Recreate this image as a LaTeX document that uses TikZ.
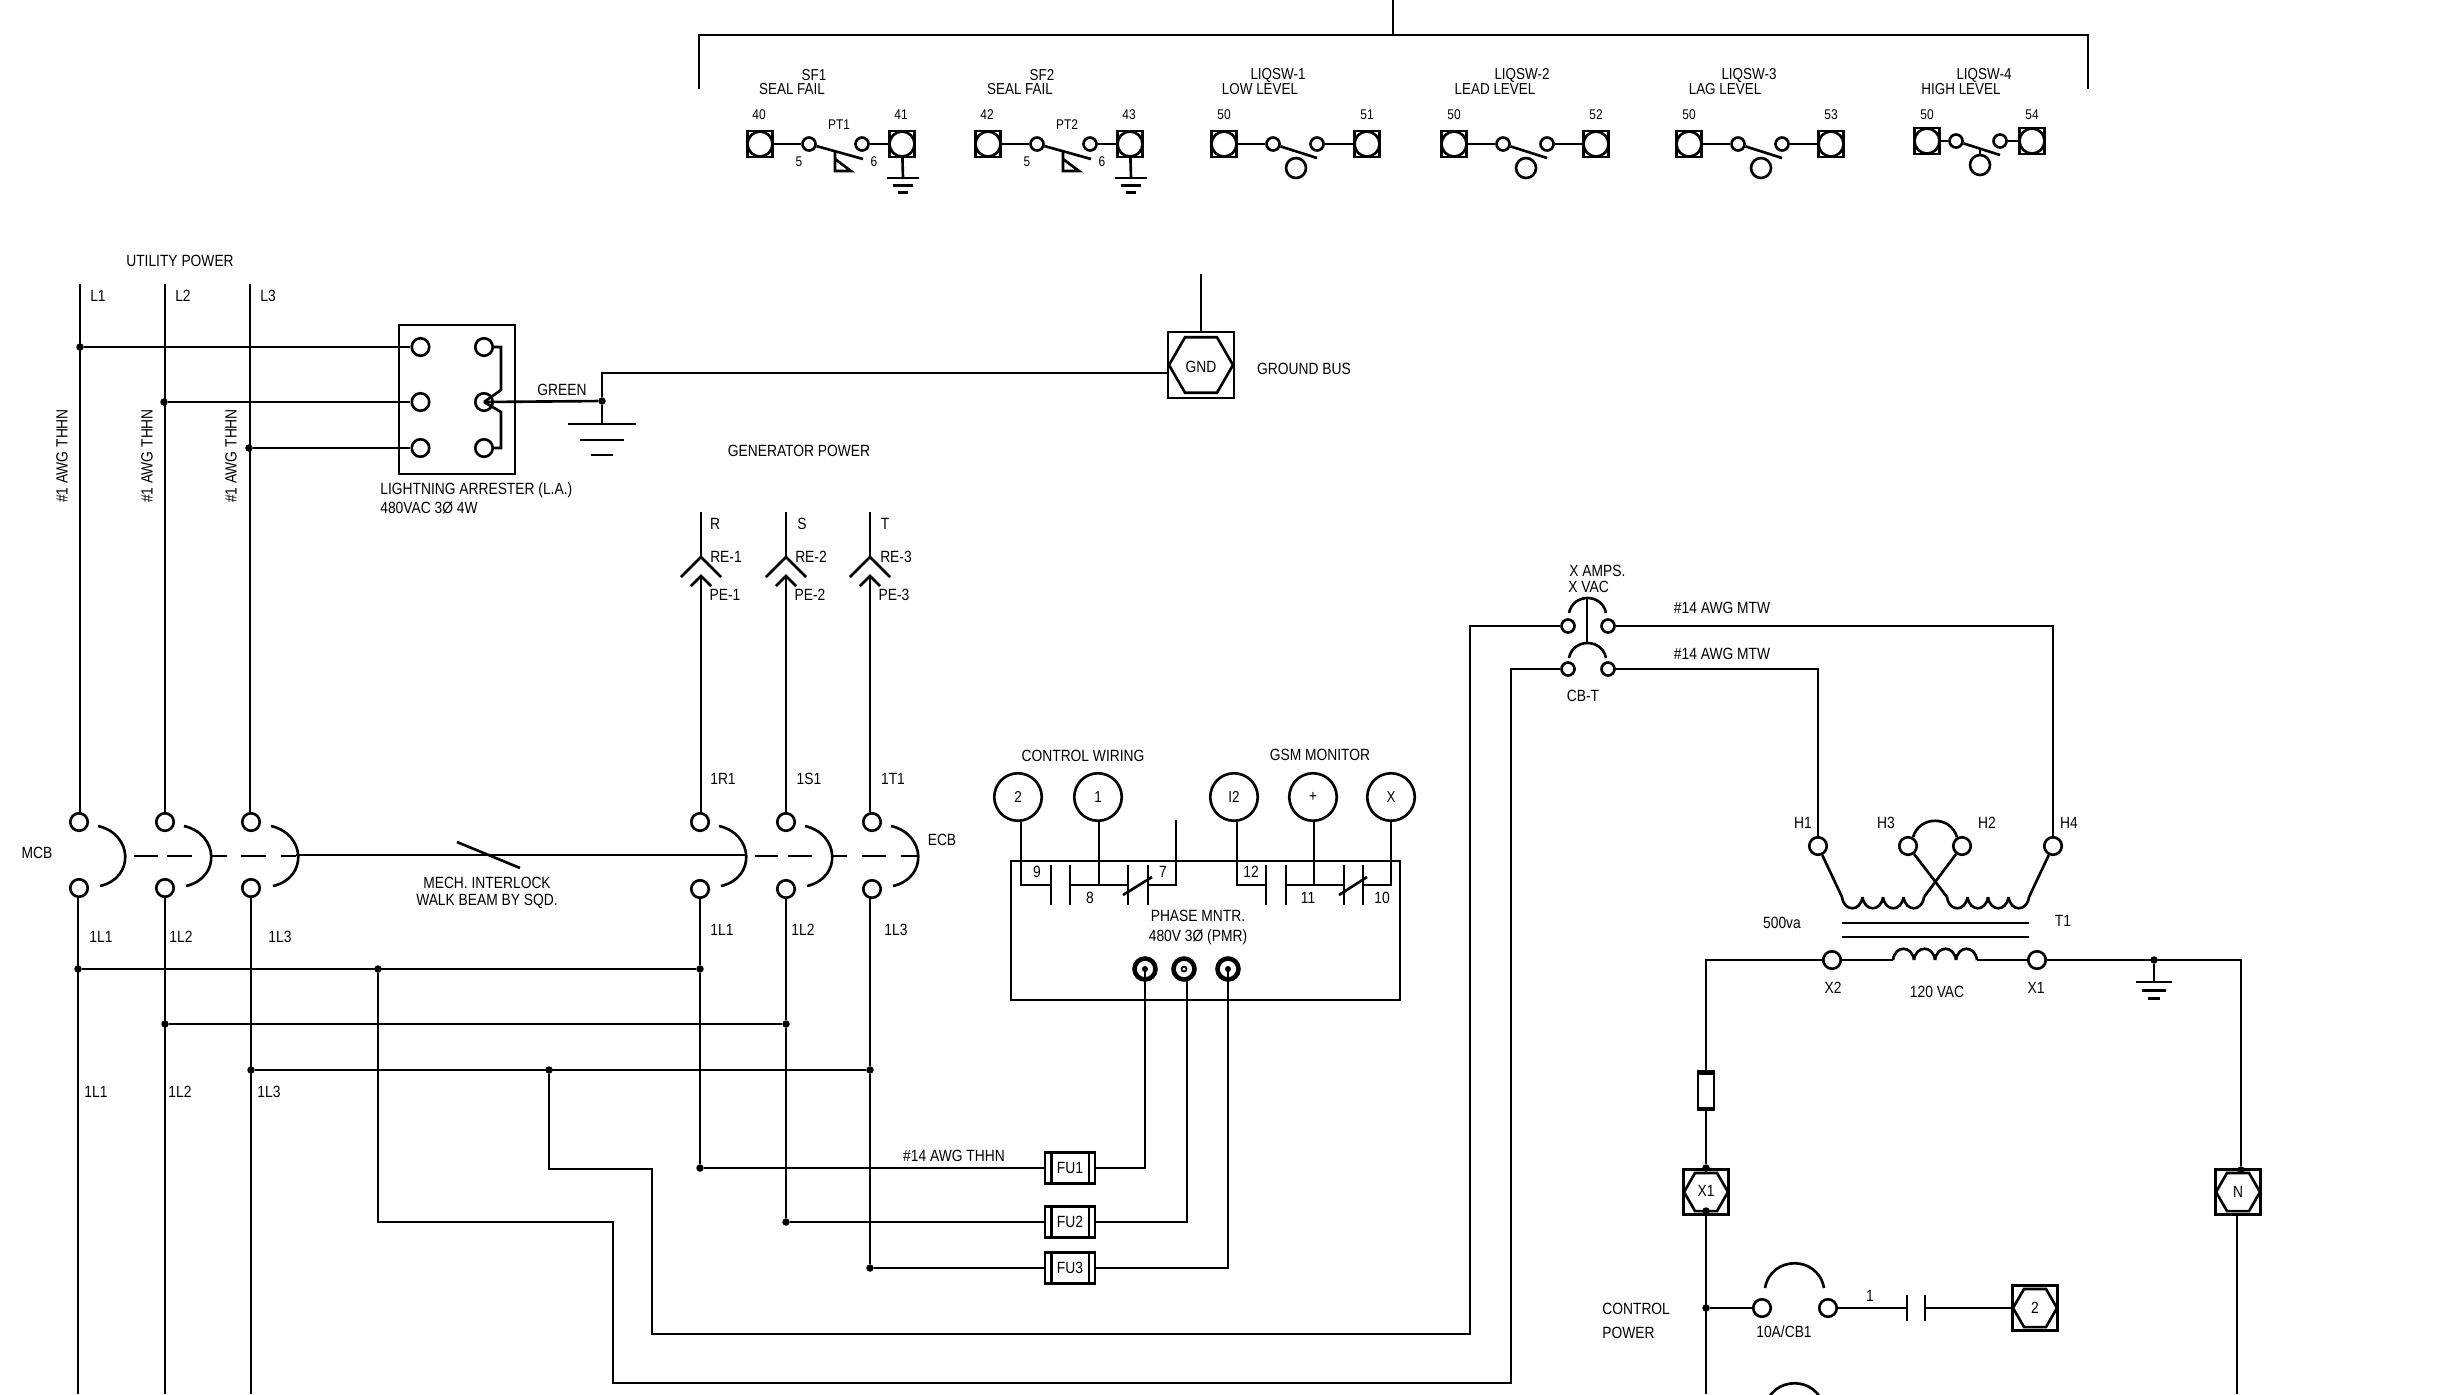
\documentclass[tikz,border=0pt]{standalone}
\usepackage{fontspec}
\setmainfont[FakeStretch=0.85]{Liberation Sans}
\usetikzlibrary{shapes.geometric,calc}

\tikzset{
  wire/.style={line width=1.5pt},
  term/.style={circle,draw,wire,fill=white,inner sep=0pt,minimum size=.35cm},
  smterm/.style={term,minimum size=.26cm},
  sqterm/.style={rectangle,draw,wire,inner sep=0pt,minimum width=.5cm,minimum height=.52cm},
  sqdisc/.style={circle,draw,wire,fill=white,inner sep=0pt,minimum size=.5cm},
  dot/.style={circle,fill=black,inner sep=0pt,minimum size=.15cm},
  lbl/.style={inner sep=0pt,font=\fontsize{9.25}{11}\selectfont},
  toplbl/.style={inner sep=0pt,font=\fontsize{9}{11}\selectfont},
  numlbl/.style={inner sep=0pt,font=\fontsize{8}{10}\selectfont},
  sqhex/.style={rectangle,draw,wire,inner sep=0pt},
  hexa/.style={regular polygon,regular polygon sides=6,draw,wire,inner sep=0pt},
  fuse/.style={rectangle,draw,wire,fill=white,inner sep=0pt,minimum width=1cm,minimum height=.62cm},
  pics/earth/.style={code={
    \draw[wire] (-34,0) -- (34,0);
    \draw[wire] (-22,16) -- (22,16);
    \draw[wire] (-11,31) -- (11,31);
  }}
}

\begin{document}
\begin{tikzpicture}[x=.02cm,y=-.02cm]
\path[use as bounding box,clip] (0,0) rectangle (2448,1394);

% bus to the switches
\coordinate (tstem) at (1393,0);
\coordinate (tjoin) at (1393,35);
\coordinate (tleft) at (699,89);
\coordinate (tright) at (2088,89);
\draw[wire] (tstem) -- (tjoin);
\draw[wire] (tleft) |- (tjoin) -| (tright);

% pressure switches
\foreach \nm/\dx/\na/\nb/\sf/\pt in {sfa/0/40/41/SF1/PT1,sfb/228/42/43/SF2/PT2}{
  \begin{scope}[shift={(\dx,0)}]
    \node[sqterm] (\nm l) at (760,144) {};
    \node[sqterm] (\nm r) at (902,144) {};
    \node[sqdisc] (\nm ld) at (760,144) {};
    \node[sqdisc] (\nm rd) at (902,144) {};
    \node[smterm] (\nm a) at (809,144) {};
    \node[smterm] (\nm b) at (862,144) {};
    \coordinate (\nm e) at (863,159);
    \coordinate (\nm g) at (903,178);
    \draw[wire] (\nm ld) -- (\nm a);
    \draw[wire] (\nm b) -- (\nm rd);
    \draw[wire] (\nm a) -- (\nm e);
    \draw[wire] (835,151) -- (835,171) -- (851,171) -- (835,159);
    \draw[wire] (\nm rd) -- (\nm g);
    \pic[scale=.47] at (\nm g) {earth};
    \node[numlbl] (\nm ta) at (759,115) {\na};
    \node[numlbl] (\nm tb) at (901,115) {\nb};
    \node[numlbl] (\nm tc) at (799,162) {5};
    \node[numlbl] (\nm td) at (874,162) {6};
    \node[numlbl] (\nm te) at (839,125) {\pt};
    \node[toplbl] (\nm tf) at (814,75) {\sf};
    \node[toplbl] (\nm tg) at (792,89) {SEAL FAIL};
  \end{scope}
}

% level switches
\foreach \nm/\xl/\xr/\ca/\cb/\fx/\py/\tag/\lev/\tx/\lx/\nb in {
  lqa/1224/1367/1273/1317/1296/144/LIQSW-1/LOW LEVEL/1278/1260/51,
  lqb/1454/1596/1503/1547/1526/144/LIQSW-2/LEAD LEVEL/1522/1495/52,
  lqc/1689/1831/1738/1782/1761/144/LIQSW-3/LAG LEVEL/1749/1725/53,
  lqd/1927/2032/1956/2000/1980/141/LIQSW-4/HIGH LEVEL/1984/1961/54}{
  \node[sqterm] (\nm l) at (\xl,\py) {};
  \node[sqterm] (\nm r) at (\xr,\py) {};
  \node[sqdisc] (\nm ld) at (\xl,\py) {};
  \node[sqdisc] (\nm rd) at (\xr,\py) {};
  \node[smterm] (\nm a) at (\ca,\py) {};
  \node[smterm] (\nm b) at (\cb,\py) {};
  \node[term,minimum size=.4cm] (\nm f) at (\fx,{\py+24}) {};
  \coordinate (\nm e) at (\cb,{\py+14});
  \draw[wire] (\nm ld) -- (\nm a);
  \draw[wire] (\nm b) -- (\nm rd);
  \draw[wire] (\nm a) -- (\nm e);
  \node[numlbl] (\nm ta) at (\xl,115) {50};
  \node[numlbl] (\nm tb) at (\xr,115) {\nb};
  \node[toplbl] (\nm tc) at (\tx,75) {\tag};
  \node[toplbl] (\nm td) at (\lx,89) {\lev};
}
\draw[wire] (lqdf) -- (1980,148);

% utility power side
\foreach \nm/\xt/\xc/\xb/\ybus/\n in {a/80/79/78/969/1,b/165/165/165/1024/2,c/250/251/251/1070/3}{
  \coordinate (lin\nm) at (\xt,284);
  \coordinate (lout\nm) at (\xb,1394);
  \node[term] (mcbu\nm) at (\xc,822) {};
  \node[term] (mcbl\nm) at (\xc,888) {};
  \draw[wire] (lin\nm) -- (lin\nm |- mcbu\nm.north);
  \draw[wire] (lout\nm |- mcbl\nm.south) -- (lout\nm);
  \node[dot] (busl\nm) at (\xb,\ybus) {};
  \node[lbl] (tagl\nm) at ({\xt+18},296) {L\n};
}
\foreach \px in {98,184,271,719,805,891}{
  \draw[wire] (\px,826) .. controls +(35,8) and +(35,-8) .. ++(2,60);
}

% arrester
\node[rectangle,draw,wire,inner sep=0pt,minimum width=2.32cm,minimum height=2.98cm] (arr) at (457,399.5) {};
\foreach \nm/\py/\px in {a/347/80,b/402/164,c/448/249}{
  \node[term] (arl\nm) at (420.5,\py) {};
  \node[term] (arr\nm) at (484,\py) {};
  \node[dot] (ard\nm) at (\px,\py) {};
  \draw[wire] (ard\nm) -- (arl\nm);
}
\draw[wire] (arra) -- (501,347) -- (501,390) -- (arrb.center);
\draw[wire] (arrc) -- (501,448) -- (501,412) -- (arrb.center);
\node[dot] (greendot) at (602,401) {};
\draw[wire] (arrb.center) -- (greendot);
\coordinate (gndg) at (602,424);
\draw[wire] (greendot) -- (gndg);
\pic at (gndg) {earth};

% hexagon blocks
\foreach \nm/\px/\py/\sq/\hx/\txt/\ty in {gnd/1201/365/1.32cm/1.28cm/GND/367,xone/1706/1192/.9cm/.88cm/X1/1191,nbox/2238/1192/.9cm/.88cm/N/1192,twob/2035/1308/.9cm/.88cm/2/1308}{
  \node[sqhex,minimum size=\sq] (\nm s) at (\px,\py) {};
  \node[hexa,minimum size=\hx] (\nm) at (\px,\py) {};
  \node[lbl] (\nm t) at (\px,\ty) {\txt};
}
\coordinate (gndtop) at (1201,274);
\draw[wire] (gndtop) -- (gnds.north);
\draw[wire] (greendot) |- (gnds.west |- 0,373);

% generator side
\foreach \nm/\up/\xt/\xc/\xb/\ybus/\n/\m/\xa/\xe/\xf/\xg/\xh in {
  r/a/701/700/700/969/1/R/715/726/725/723/722,
  s/b/786/786/786/1024/2/S/802/811/810/809/803,
  t/c/870/872/870/1070/3/T/885/896/894/893/896}{
  \coordinate (gin\nm) at (\xt,512);
  \coordinate (sock\nm) at (\xt,557);
  \coordinate (pin\nm) at (\xt,576);
  \draw[wire] (gin\nm) -- (sock\nm);
  \draw[wire] ($(sock\nm)+(-20,20)$) -- (sock\nm) -- ($(sock\nm)+(20,20)$);
  \draw[wire] ($(pin\nm)+(-10,10)$) -- (pin\nm) -- ($(pin\nm)+(10,10)$);
  \node[term] (ecbu\nm) at (\xc,822) {};
  \node[term] (ecbl\nm) at (\xc,889) {};
  \draw[wire] (pin\nm) -- (pin\nm |- ecbu\nm.north);
  \node[dot] (bush\nm) at (\xb,\ybus) {};
  \draw[wire] (\xb,898) -- (bush\nm);
  \draw[wire] (busl\up) -- (bush\nm);
  \node[lbl] (tag\nm a) at (\xa,524) {\m};
  \node[lbl] (tag\nm b) at (\xe,557) {RE-\n};
  \node[lbl] (tag\nm c) at (\xf,595) {PE-\n};
  \node[lbl] (tag\nm d) at (\xg,779) {1\m 1};
  \node[lbl] (tag\nm e) at (\xh,930) {1L\n};
}

% interlock beam
\coordinate (beama) at (296,855);
\coordinate (beamb) at (745,855);
\coordinate (ticka) at (457,842);
\coordinate (tickb) at (520,868);
\draw[wire] (beama) -- (beamb);
\draw[wire] (ticka) -- (tickb);
\foreach \xa/\xb in {134/158,167/192,211/227,241/266,281/296,755/778,788/812,832/847,862/886,901/917}{
  \draw[wire] (\xa,856) -- (\xb,856);
}

% phase monitor
\node[rectangle,draw,wire,inner sep=0pt,minimum width=7.78cm,minimum height=2.78cm] (pmr) at (1205.5,930.5) {};
\foreach \nm/\px/\txt in {cwb/1018/2,cwa/1098/1,gsa/1234/I2,gsb/1313/+,gsc/1391/X}{
  \node[circle,draw,wire,inner sep=0pt,minimum size=.95cm,font=\fontsize{9}{10}\selectfont] (\nm) at (\px,797) {\txt};
}
\coordinate (pmrst) at (1176,820);
\draw[wire] (cwb.south -| 1021,0) |- (1051,885);
\draw[wire] (1070,885) -- (1128,885);
\draw[wire] (cwa.south -| 1099,0) -- (1099,885);
\draw[wire] (1148,885) -| (pmrst);
\draw[wire] (gsa.south -| 1237,0) |- (1266,885);
\draw[wire] (1286,885) -- (1344,885);
\draw[wire] (gsb.south -| 1314,0) -- (1314,885);
\draw[wire] (1363,885) -| (gsc.south);
\foreach \px in {1051,1070,1128,1148,1266,1286,1344,1363}{
  \draw[wire] (\px,865) -- (\px,905);
}
\draw[wire] (1123,895) -- (1152,877);
\draw[wire] (1339,895) -- (1367,877);
\foreach \nm/\px/\py/\txt in {ca/1037/872/9,cb/1090/898/8,cc/1163/872/7,cd/1251/872/12,ce/1308/898/11,cf/1382/898/10}{
  \node[lbl] (\nm) at (\px,\py) {\txt};
}
\foreach \nm/\px in {pa/1145,pb/1184,pc/1228}{
  \node[circle,draw,line width=2.6pt,fill=white,inner sep=0pt,minimum size=.42cm] (\nm) at (\px,969) {};
}
\node[dot,minimum size=.12cm] (pad) at (pa) {};
\node[circle,draw,line width=1pt,inner sep=0pt,minimum size=.1cm] (pbd) at (pb) {};
\node[dot,minimum size=.12cm] (pcd) at (pc) {};
\coordinate (wfa) at (1145,969);
\coordinate (wfb) at (1187,980);
\coordinate (wfc) at (1228,969);

% fuses
\foreach \nm/\py/\txt/\bus/\pp in {fua/1168/FU1/r/wfa,fub/1222/FU2/s/wfb,fuc/1268/FU3/t/wfc}{
  \node[fuse] (\nm) at (1070,\py) {\fontsize{9.25}{11}\selectfont\txt};
  \draw[wire] ([xshift=.15cm]\nm.north west) -- ([xshift=.15cm]\nm.south west);
  \draw[wire] ([xshift=-.15cm]\nm.north east) -- ([xshift=-.15cm]\nm.south east);
  \node[dot] (tap\nm) at (bush\bus |- \nm) {};
  \draw[wire] (bush\bus) -- (tap\nm) -- (\nm);
  \draw[wire] (\nm) -| (\pp);
}

% circuit breaker for the transformer
\node[smterm] (cbal) at (1568,626) {};
\node[smterm] (cbar) at (1608,626) {};
\node[smterm] (cbbl) at (1568,669) {};
\node[smterm] (cbbr) at (1608,669) {};
\foreach \py in {613,658}{
  \draw[wire] (1569,\py) .. controls +(4,-20) and +(-4,-20) .. ++(37,0);
}
\coordinate (cbtop) at (1587,598);
\coordinate (cbbot) at (1587,643);
\draw[wire] (cbtop) -- (cbbot);
\node[dot] (tapa) at (549,1070) {};
\node[dot] (tapb) at (378,969) {};
\draw[wire] (tapa) |- (652,1169) |- (1470,1334) |- (cbal);
\draw[wire] (tapb) |- (613,1222) |- (1511,1383) |- (cbbl);

% transformer
\foreach \nm/\px in {hone/1818,hthree/1908,htwo/1962,hfour/2053}{
  \node[term] (\nm) at (\px,846) {};
}
\draw[wire] (cbar) -| (hfour);
\draw[wire] (cbbr) -| (hone);
\draw[wire] (hthree.60) .. controls +(6,-22) and +(-6,-22) .. (htwo.120);
\draw[wire] (hone) -- (1842,897);
\draw[wire] (hthree) -- (1947,897);
\draw[wire] (htwo) -- (1924,897);
\draw[wire] (hfour) -- (2029,897);
\foreach \k in {0,...,3}{
  \draw[wire] ({1842+20.5*\k},897) .. controls +(2,15) and +(-2,15) .. ++(20.5,0);
  \draw[wire] ({1947+20.5*\k},897) .. controls +(2,15) and +(-2,15) .. ++(20.5,0);
  \draw[wire] ({1893+21*\k},960) .. controls +(2,-15) and +(-2,-15) .. ++(21,0);
}
\draw[wire] (1842,923) -- (2029,923);
\draw[wire] (1842,937) -- (2029,937);
\node[term] (xtwo) at (1832,960) {};
\node[term] (xonet) at (2037,960) {};
\draw[wire] (xtwo) -- (1893,960);
\draw[wire] (1977,960) -- (xonet);
\node[dot] (trdot) at (2154,960) {};
\coordinate (trg) at (2154,982);
\draw[wire] (trdot) -- (trg);
\pic[scale=.54] at (trg) {earth};

% control power
\node[dot] (xonea) at (1706,1168) {};
\node[dot] (xoneb) at (1706,1211) {};
\node[dot] (nboxa) at (2241,1170) {};
\node[rectangle,draw,wire,inner sep=0pt,minimum width=.32cm,minimum height=.78cm] (ctf) at (1706,1090.5) {};
\draw[wire] ([yshift=-.07cm]ctf.north west) -- ([yshift=-.07cm]ctf.north east);
\draw[wire] ([yshift=.07cm]ctf.south west) -- ([yshift=.07cm]ctf.south east);
\coordinate (ctbot) at (1706,1394);
\coordinate (nbot) at (2237,1394);
\draw[wire] (xonea) -- (ctf);
\draw[wire] (ctf) |- (xtwo);
\draw[wire] (xoneb) -- (ctbot);
\draw[wire] (xonet) -| (nboxa);
\draw[wire] (nbot) -- (2237,1214);
\node[dot] (cbdot) at (1706,1308) {};
\node[term] (cbla) at (1762,1308) {};
\node[term] (cblb) at (1828,1308) {};
\coordinate (cplta) at (1907,1308);
\coordinate (cpltb) at (1925,1308);
\draw[wire] (cbdot) -- (cbla);
\draw[wire] (cblb) -- (cplta);
\draw[wire] (cpltb) -- (twobs);
\draw[wire] (1907,1295) -- (1907,1321);
\draw[wire] (1925,1295) -- (1925,1321);
\foreach \py in {1288,1408}{
  \draw[wire] (1765,\py) .. controls +(6,-33) and +(-6,-33) .. ++(59,0);
}

% other labels
\foreach \nm/\px/\py/\txt in {
  la/180/261/UTILITY POWER,lb/37/853/MCB,lc/101/937/1L1,ld/181/937/1L2,le/280/937/1L3,
  lf/96/1092/1L1,lg/180/1092/1L2,lh/269/1092/1L3,li/562/390/GREEN,
  lj/799/451/GENERATOR POWER,lk/487/883/MECH. INTERLOCK,ll/487/901/WALK BEAM BY SQD.,
  lm/942/840/ECB,ln/1304/369/GROUND BUS,lo/1083/756/CONTROL WIRING,lp/1320/755/GSM MONITOR,
  lq/1198/916/PHASE MNTR.,lr/1198/937/480V 3Ø (PMR),ls/954/1156/\#14 AWG THHN,
  lt/1722/608/\#14 AWG MTW,lu/1722/654/\#14 AWG MTW,lv/1583/696/CB-T,
  lw/1803/823/H1,lx/1886/823/H3,ly/1987/823/H2,lz/2069/823/H4,
  ma/1782/923/500va,mb/2063/921/T1,mc/1833/988/X2,md/1937/992/120 VAC,me/2036/988/X1,
  mf/1870/1296/1,mg/1784/1332/{10A/CB1}}{
  \node[lbl] (\nm) at (\px,\py) {\txt};
}
\foreach \nm/\px/\py/\txt in {
  na/380/490/LIGHTNING ARRESTER (L.A.),nb/380/508/480VAC 3Ø 4W,
  nc/1569/571/X AMPS.,nd/1568/587/X VAC,ne/1602/1309/CONTROL,nf/1602/1333/POWER}{
  \node[lbl,anchor=west] (\nm) at (\px,\py) {\txt};
}
\foreach \nm/\px in {awa/62,awb/147,awc/231}{
  \node[lbl,rotate=90] (\nm) at (\px,456) {\#1 AWG THHN};
}
\end{tikzpicture}
\end{document}
